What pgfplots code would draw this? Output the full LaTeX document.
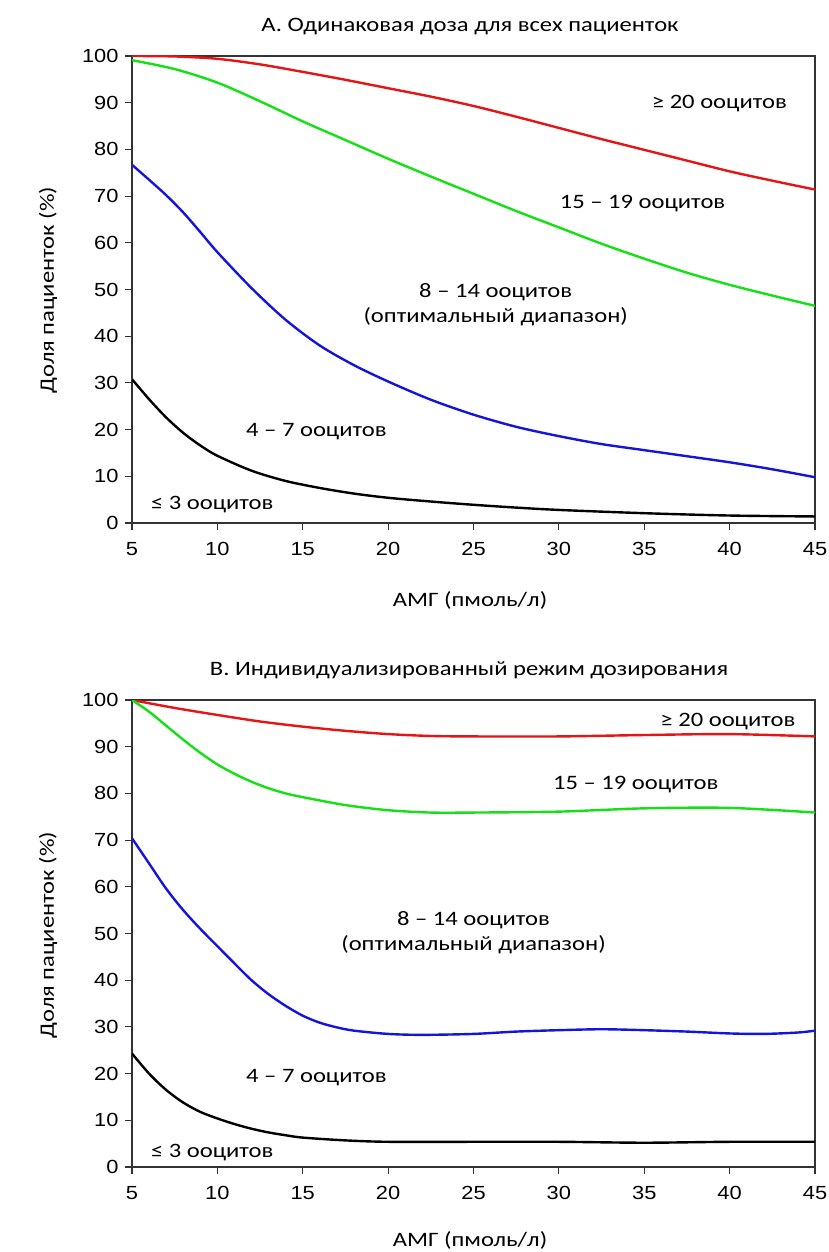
\documentclass[border=0pt]{standalone}
\usepackage{fontspec}
\setmainfont[FakeStretch=1.2]{Carlito}
\newfontfamily\tickfont[FakeStretch=1.15]{Liberation Sans}
\usepackage{pgfplots}
\pgfplotsset{compat=1.18}

\definecolor{cred}{RGB}{230,20,20}
\definecolor{cgreen}{RGB}{20,225,20}
\definecolor{cblue}{RGB}{20,20,220}

\tikzset{lbl/.style={font=\fontsize{20.5}{25}\selectfont, align=center}}
\pgfplotsset{
  panel/.style={
    scale only axis, width=683pt, height=467pt,
    xmin=5, xmax=45, ymin=0, ymax=100,
    xtick={5,10,...,45}, ytick={0,10,...,100},
    tick align=outside, tick pos=left, major tick length=7pt,
    axis line style={line width=1.3pt, black!80},
    tick style={line width=1.1pt, black!80},
    /pgf/number format/assume math mode=true,
    ticklabel style={font=\tickfont\fontsize{19}{19}\selectfont},
    xticklabel style={yshift=-9pt},
    yticklabel style={xshift=-3pt},
    every axis plot/.append style={line width=2.4pt, smooth},
    anchor=south west,
  },
}

\begin{document}
\begin{tikzpicture}
\path[use as bounding box] (0,0) rectangle (829pt,-1252pt);

% A
\begin{axis}[panel, at={(132pt,-523pt)}]
\addplot[cred] coordinates {(5,100) (7.5,99.9) (10,99.4) (12.5,98.2) (15,96.6) (17.5,94.9) (20,93.1) (22.5,91.3) (25,89.3) (27.5,87.0) (30,84.6) (32.5,82.2) (35,79.9) (37.5,77.6) (40,75.3) (42.5,73.3) (45,71.4)};
\addplot[cgreen] coordinates {(5,99.1) (7.5,97.2) (10,94.3) (12.5,90.3) (15,86.0) (17.5,82.0) (20,78.0) (22.5,74.2) (25,70.5) (27.5,66.8) (30,63.3) (32.5,59.8) (35,56.6) (37.5,53.6) (40,51.0) (42.5,48.7) (45,46.5)};
\addplot[cblue] coordinates {(5,76.7) (6,73.5) (7,70.2) (8,66.5) (9,62.3) (10,58.0) (12,50.3) (14,43.5) (16,38.0) (18,33.8) (20,30.3) (22.5,26.4) (25,23.2) (27.5,20.6) (30,18.6) (32.5,16.9) (35,15.6) (37.5,14.3) (40,13.0) (42.5,11.5) (45,9.8)};
\addplot[black] coordinates {(5,30.8) (6,26.5) (7,22.6) (8,19.3) (9,16.6) (10,14.4) (12,11.2) (14,9.0) (16,7.5) (18,6.3) (20,5.4) (22.5,4.6) (25,3.9) (27.5,3.3) (30,2.8) (35,2.1) (40,1.6) (45,1.4)};
\node[lbl] at (axis cs:39.4,89.9) {≥ 20 ооцитов};
\node[lbl] at (axis cs:34.9,68.5) {15 – 19 ооцитов};
\node[lbl] at (axis cs:26.3,46.7) {8 – 14 ооцитов\\(оптимальный диапазон)};
\node[lbl] at (axis cs:15.8,19.5) {4 – 7 ооцитов};
\node[lbl] at (axis cs:9.7,3.9) {≤ 3 ооцитов};
\end{axis}

% B
\begin{axis}[panel, at={(132pt,-1167pt)}]
\addplot[cred] coordinates {(5,100) (7.5,98.3) (10,96.8) (12.5,95.4) (15,94.3) (17.5,93.4) (20,92.7) (22.5,92.3) (25,92.2) (30,92.2) (35,92.5) (40,92.7) (45,92.2)};
\addplot[cgreen] coordinates {(5,100) (6,97.5) (7,94.5) (8,91.5) (9,88.7) (10,86.2) (11,84.2) (12,82.5) (13,81.1) (14,80.0) (15,79.2) (17.5,77.5) (20,76.4) (22.5,75.9) (25,75.9) (30,76.1) (35,76.8) (40,76.9) (45,75.9)};
\addplot[cblue] coordinates {(5,70.4) (6,65.0) (7,59.6) (8,55.0) (9,51.0) (10,47.3) (11,43.6) (12,40.0) (13,37.0) (14,34.5) (15,32.4) (16,30.9) (17,29.9) (18,29.2) (20,28.5) (22,28.3) (25,28.5) (27.5,29.0) (30,29.3) (32.5,29.5) (35,29.3) (37.5,29.0) (40,28.6) (42,28.5) (44,28.8) (45,29.2)};
\addplot[black] coordinates {(5,24.3) (6,20.0) (7,16.5) (8,13.8) (9,11.8) (10,10.4) (11,9.2) (12,8.2) (13,7.4) (14,6.8) (15,6.3) (17.5,5.7) (20,5.4) (25,5.4) (30,5.4) (35,5.2) (40,5.4) (45,5.4)};
\node[lbl] at (axis cs:39.9,95.3) {≥ 20 ооцитов};
\node[lbl] at (axis cs:34.5,81.8) {15 – 19 ооцитов};
\node[lbl] at (axis cs:25.0,50.2) {8 – 14 ооцитов\\(оптимальный диапазон)};
\node[lbl] at (axis cs:15.8,19.1) {4 – 7 ооцитов};
\node[lbl] at (axis cs:9.7,3.2) {≤ 3 ооцитов};
\end{axis}

\node[lbl] at (470pt,-27pt) {А. Одинаковая доза для всех пациенток};
\node[lbl] at (470pt,-600pt) {АМГ (пмоль/л)};
\node[lbl, rotate=90] at (48pt,-290pt) {Доля пациенток (\%)};
\node[lbl] at (469pt,-670pt) {В. Индивидуализированный режим дозирования};
\node[lbl] at (470pt,-1240pt) {АМГ (пмоль/л)};
\node[lbl, rotate=90] at (48pt,-935pt) {Доля пациенток (\%)};
\end{tikzpicture}
\end{document}
